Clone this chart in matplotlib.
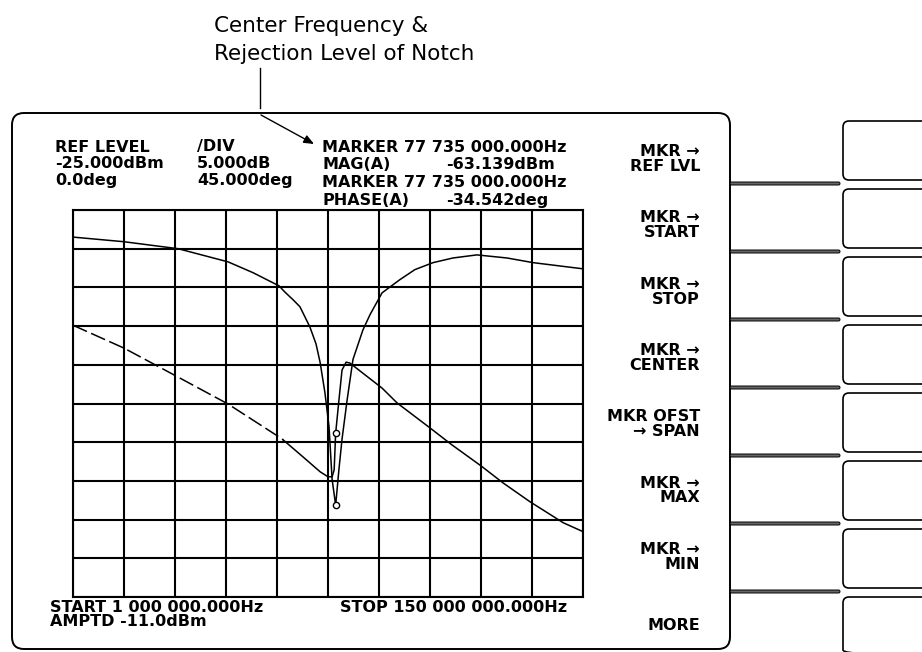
import numpy as np
import matplotlib
matplotlib.use("Agg")
import matplotlib.pyplot as plt
from matplotlib.patches import FancyBboxPatch

W, H = 922, 652

# ---- instrument settings (from the screen annotations) ----
start_mhz = 1.0
stop_mhz = 150.0
ref_level_dbm = -25.0
db_per_div = 5.0
ref_phase_deg = 0.0
deg_per_div = 45.0
n_div = 10

# ---- magnitude trace (MHz, dBm) ----
mag_freq = [1.0, 15.9, 31.7, 46.3, 53.6, 61.2, 62.9, 65.3, 67.3, 70.2, 72.0,
            73.2, 74.6, 75.8, 76.7, 77.735, 78.7, 79.6, 81.1, 82.8, 85.7, 87.8,
            91.3, 96.5, 100.9, 106.2, 112.0, 119.0, 127.8, 135.4, 150.0]
mag_dbm = [-28.5, -29.1, -30.0, -31.7, -33.1, -34.8, -35.6, -36.6, -37.5,
           -40.1, -42.3, -44.7, -48.6, -53.0, -59.8, -63.139, -58.5, -54.6,
           -49.5, -44.3, -40.5, -38.5, -35.7, -34.0, -32.7, -31.8, -31.2,
           -30.8, -31.2, -31.8, -32.6]

# ---- phase trace (MHz, deg) ----
phase_freq = [1.0, 15.9, 31.7, 46.3, 61.2, 62.4, 68.2, 73.2, 75.5, 76.7, 77.3,
              77.735, 78.7, 79.6, 80.8, 81.9, 91.3, 95.7, 105.3, 111.7, 120.2,
              126.6, 134.5, 144.2, 150.0]
phase_deg = [91.0, 64.4, 30.7, -0.6, -38.9, -42.3, -62.1, -79.4, -85.2, -85.2,
             -77.1, -34.542, 4.1, 38.9, 48.1, 47.0, 17.9, 0.6, -28.4, -48.1,
             -72.5, -92.2, -114.2, -138.6, -149.0]
dash_until = 62.4   # phase trace appears dashed up to this frequency

# ---- marker ----
marker_freq = 77.735
marker_mag = -63.139
marker_phase = -34.542

# ---- texts ----
title_lines = ["Center Frequency &", "Rejection Level of Notch"]
header_left = [("REF LEVEL", "/DIV"), ("-25.000dBm", "5.000dB"), ("0.0deg", "45.000deg")]
header_marker = [("MARKER 77 735 000.000Hz", ""), ("MAG(A)", "-63.139dBm"),
                 ("MARKER 77 735 000.000Hz", ""), ("PHASE(A)", "-34.542deg")]
footer = [("START 1 000 000.000Hz", "STOP 150 000 000.000Hz"), ("AMPTD -11.0dBm", "")]
softkeys = [("MKR →", "REF LVL"), ("MKR →", "START"), ("MKR →", "STOP"),
            ("MKR →", "CENTER"), ("MKR OFST", "→ SPAN"), ("MKR →", "MAX"),
            ("MKR →", "MIN"), ("", "MORE")]

fig = plt.figure(figsize=(W / 100, H / 100), dpi=100)
fig.patch.set_facecolor("white")

# overlay in pixel coordinates for the screen decorations
ov = fig.add_axes([0, 0, 1, 1], zorder=0)
ov.set_xlim(0, W)
ov.set_ylim(H, 0)
ov.axis("off")

scr = dict(family="DejaVu Sans", weight="bold", size=11.5, color="black")

# screen frame
ov.add_patch(FancyBboxPatch((12, 113), 718, 536,
                            boxstyle="round,pad=0,rounding_size=12",
                            fill=False, ec="black", lw=1.4))
# softkey separators and boxes
for k in range(8):
    ov.add_patch(FancyBboxPatch((843, 121 + 68 * k), 120, 59,
                                boxstyle="round,pad=0,rounding_size=6",
                                fill=False, ec="black", lw=1.2))
for k in range(7):
    ov.add_patch(FancyBboxPatch((730, 182 + 68 * k), 110, 3,
                                boxstyle="round,pad=0,rounding_size=1.5",
                                fc="#666666", ec="black", lw=0.7))

# annotation title, leader and arrow
ov.text(214, 32, title_lines[0], family="DejaVu Sans", size=15.5, va="baseline")
ov.text(214, 60, title_lines[1], family="DejaVu Sans", size=15.5, va="baseline")
ov.plot([260, 260], [68, 108], color="black", lw=1.0)
ov.annotate("", xy=(314, 144), xytext=(261, 115),
            arrowprops=dict(arrowstyle="-|>,head_length=0.6,head_width=0.25",
                            color="black", lw=1.0, shrinkA=0, shrinkB=0))

# header
for i, (a, b) in enumerate(header_left):
    y = 147 + 17 * i
    ov.text(55, y, a, va="center", **scr)
    ov.text(197, y, b, va="center", **scr)
for i, (a, b) in enumerate(header_marker):
    y = 147 + 17.7 * i
    ov.text(322, y, a, va="center", **scr)
    if b:
        ov.text(446, y, b, va="center", **scr)

# footer
ov.text(50, 607, footer[0][0], va="center", **scr)
ov.text(340, 607, footer[0][1], va="center", **scr)
ov.text(50, 621, footer[1][0], va="center", **scr)

# softkey labels
for k, (l1, l2) in enumerate(softkeys):
    c = 159 + 66.3 * k
    if l1:
        ov.text(700, c - 7.5, l1, ha="right", va="center", **scr)
        ov.text(700, c + 7.5, l2, ha="right", va="center", **scr)
    else:
        ov.text(700, c + 2, l2, ha="right", va="center", **scr)

# ---- graticule / traces ----
ax = fig.add_axes([73 / W, 1 - 597 / H, 510 / W, 387 / H], zorder=1)
ax.set_xlim(start_mhz, stop_mhz)
ax.set_ylim(ref_level_dbm - n_div * db_per_div, ref_level_dbm)
ax.set_xticks(np.linspace(start_mhz, stop_mhz, n_div + 1))
ax.set_yticks(np.linspace(ref_level_dbm - n_div * db_per_div, ref_level_dbm, n_div + 1))
ax.grid(True, color="black", lw=1.5)
ax.tick_params(length=0, labelbottom=False, labelleft=False)
for s in ax.spines.values():
    s.set_linewidth(1.5)
ax.plot(mag_freq, mag_dbm, color="black", lw=1.1)
ax.plot([marker_freq], [marker_mag], "o", mfc="white", mec="black", ms=4.5, mew=1.0)

axp = ax.twinx()
half = n_div / 2 * deg_per_div
axp.set_ylim(ref_phase_deg - half, ref_phase_deg + half)
axp.set_yticks([])
for s in axp.spines.values():
    s.set_visible(False)
pf = np.array(phase_freq)
pd = np.array(phase_deg)
k = int(np.searchsorted(pf, dash_until))
axp.plot(pf[:k + 1], pd[:k + 1], color="black", lw=1.1, ls=(0, (10, 3)))
axp.plot(pf[k:], pd[k:], color="black", lw=1.1)
axp.plot([marker_freq], [marker_phase], "o", mfc="white", mec="black", ms=4.5, mew=1.0)

fig.savefig("out.png", dpi=100)
